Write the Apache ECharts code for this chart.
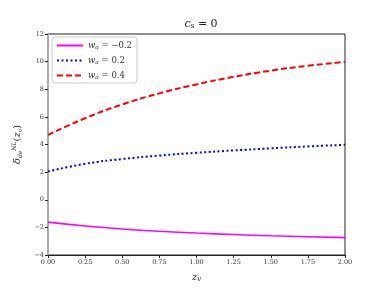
<!DOCTYPE html>
<html><head><meta charset="utf-8">
<script src="https://cdn.jsdelivr.net/npm/echarts@6/dist/echarts.min.js"></script>
<style>html,body{margin:0;padding:0;background:#fff}#c{width:384px;height:288px}</style>
</head><body><div id="c"></div>
<script>
const zValues = [0, 0.25, 0.5, 0.75, 1.0, 1.25, 1.5, 1.75, 2.0];
const seriesNames = ['w_a = -0.2', 'w_a = 0.2', 'w_a = 0.4'];
const wNeg02 = [-1.62, -1.9, -2.12, -2.28, -2.41, -2.52, -2.61, -2.68, -2.74];
const w02 = [2.05, 2.6, 2.95, 3.2, 3.4, 3.57, 3.72, 3.86, 3.98];
const w04 = [4.7, 5.9, 6.9, 7.7, 8.35, 8.9, 9.35, 9.7, 9.98];
const legendLabels = ['\u22120.2', '0.2', '0.4'];
const serif = 'DejaVu Serif';
const chart = echarts.init(document.getElementById('c'));
const pairs = arr => zValues.map((z, i) => [z, arr[i]]);
const tickFmt = v => (v < 0 ? '\u2212' + Math.abs(v) : String(v));
chart.setOption({
  animation: false,
  title: {
    text: '{i|c}{s|s}{n| = 0}', left: 196, top: 13, textAlign: 'center',
    textStyle: { fontWeight: 'normal', rich: {
      i: { fontFamily: serif, fontStyle: 'italic', fontWeight: 'normal', fontSize: 11, color: '#222' },
      s: { fontFamily: serif, fontStyle: 'italic', fontWeight: 'normal', fontSize: 7.5, color: '#222', verticalAlign: 'bottom', padding: [4, 0, 0, 0] },
      n: { fontFamily: serif, fontWeight: 'normal', fontSize: 11, color: '#222' } } }
  },
  grid: { left: 48, right: 39, top: 34, bottom: 31, show: true, borderColor: '#222', borderWidth: 1 },
  legend: {
    left: 52, top: 37, orient: 'vertical', itemWidth: 26, itemHeight: 6, itemGap: 6,
    backgroundColor: '#fff', borderColor: '#ccc', borderWidth: 1, borderRadius: 3, padding: [4, 5, 3, 4],
    itemStyle: { opacity: 0 },
    data: seriesNames,
    formatter: name => '{i|w}{s|a}{n| = ' + legendLabels[seriesNames.indexOf(name)] + '}',
    textStyle: { rich: {
      i: { fontFamily: serif, fontStyle: 'italic', fontSize: 8.5, color: '#333' },
      s: { fontFamily: serif, fontStyle: 'italic', fontSize: 6, color: '#333', verticalAlign: 'bottom', padding: [3, 0, 0, 0] },
      n: { fontFamily: serif, fontSize: 8.5, color: '#333' } } }
  },
  xAxis: {
    type: 'value', min: 0, max: 2, interval: 0.25,
    name: '{i|z}{s|v}', nameLocation: 'middle', nameGap: 17,
    nameTextStyle: { rich: {
      i: { fontFamily: serif, fontStyle: 'italic', fontSize: 10, color: '#222' },
      s: { fontFamily: serif, fontStyle: 'italic', fontSize: 7, color: '#222', verticalAlign: 'bottom', padding: [4, 0, 0, 0] } } },
    axisLine: { show: true, onZero: false, lineStyle: { color: '#222', width: 1 } },
    axisTick: { show: true, inside: false, length: 3, lineStyle: { color: '#222' } },
    axisLabel: { fontFamily: serif, fontSize: 6.5, color: '#333', margin: 4, formatter: v => v.toFixed(2) },
    splitLine: { show: false }
  },
  yAxis: {
    type: 'value', min: -4, max: 12, interval: 2,
    name: '{i|\u03b4}{s|de}{p|NL}{n|(}{i|z}{v|v}{n|)}', nameLocation: 'middle', nameGap: 20, nameRotate: 90,
    nameTextStyle: { rich: {
      i: { fontFamily: serif, fontStyle: 'italic', fontSize: 10, color: '#222' },
      s: { fontFamily: serif, fontStyle: 'italic', fontSize: 6, color: '#222', verticalAlign: 'bottom', padding: [6, 0, 0, 0] },
      p: { fontFamily: serif, fontStyle: 'italic', fontSize: 6, color: '#222', verticalAlign: 'top', padding: [0, 0, 6, 0] },
      v: { fontFamily: serif, fontStyle: 'italic', fontSize: 6, color: '#222', verticalAlign: 'bottom', padding: [4, 0, 0, 0] },
      n: { fontFamily: serif, fontSize: 10, color: '#222' } } },
    axisLine: { show: true, onZero: false, lineStyle: { color: '#aaa', width: 2 } },
    axisTick: { show: true, inside: false, length: 3, lineStyle: { color: '#222' } },
    axisLabel: { fontFamily: serif, fontSize: 6.5, color: '#333', margin: 4, formatter: tickFmt },
    splitLine: { show: false }
  },
  series: [
    { name: seriesNames[0], type: 'line', smooth: true, symbol: 'none', data: pairs(wNeg02),
      lineStyle: { color: '#ff00ff', width: 1.6, type: 'solid' }, itemStyle: { color: '#ff00ff' } },
    { name: seriesNames[1], type: 'line', smooth: true, symbol: 'none', data: pairs(w02),
      lineStyle: { color: '#0000ff', width: 2, type: [2, 2.5] }, itemStyle: { color: '#0000ff' } },
    { name: seriesNames[2], type: 'line', smooth: true, symbol: 'none', data: pairs(w04),
      lineStyle: { color: '#ff0000', width: 2, type: [6, 3] }, itemStyle: { color: '#ff0000' } }
  ]
});
</script></body></html>
